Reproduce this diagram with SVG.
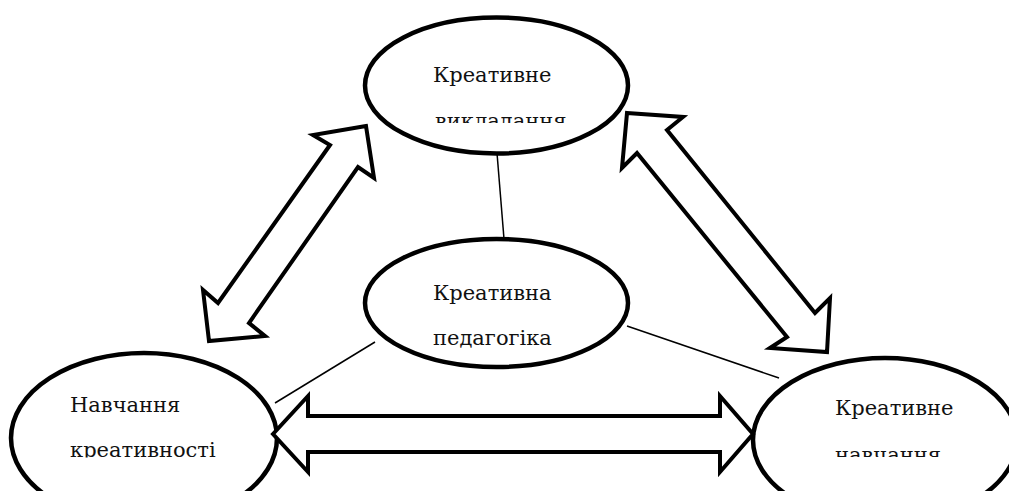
<svg xmlns="http://www.w3.org/2000/svg" width="1009" height="491" viewBox="0 0 1009 491">
<style>
.node ellipse{fill:#fff;stroke:#000;stroke-width:4.5}
.arrow{fill:#fff;stroke:#000;stroke-width:4;stroke-linejoin:miter}
.link{stroke:#000;stroke-width:1.5;fill:none}
.lbl{font-family:'DejaVu Serif',serif;font-size:21px;fill:#111}
</style>
<defs>
<clipPath id="cTop"><rect x="380" y="90" width="240" height="33"/></clipPath>
<clipPath id="cLeft"><rect x="40" y="425" width="220" height="32.5"/></clipPath>
<clipPath id="cRight"><rect x="800" y="425" width="200" height="32"/></clipPath>
</defs>
<rect width="1009" height="491" fill="#fff"/>
<g id="connectors">
<line class="link" x1="497" y1="153" x2="504" y2="239"/>
<line class="link" x1="375" y1="342" x2="275" y2="403"/>
<line class="link" x1="627" y1="326" x2="779" y2="378"/>
</g>
<g id="node-top" class="node">
<ellipse cx="496.5" cy="85.5" rx="131.5" ry="68"/>
<text class="lbl" x="433" y="82">Креативне</text>
<text class="lbl" x="435" y="128" clip-path="url(#cTop)">викладання</text>
</g>
<g id="node-center" class="node">
<ellipse cx="496.5" cy="303" rx="131.5" ry="64"/>
<text class="lbl" x="433" y="300">Креативна</text>
<text class="lbl" x="433" y="345">педагогіка</text>
</g>
<g id="node-left" class="node">
<ellipse cx="144" cy="438" rx="133" ry="85"/>
<text class="lbl" x="70" y="412">Навчання</text>
<text class="lbl" x="70" y="457" clip-path="url(#cLeft)">креативності</text>
</g>
<g id="node-right" class="node">
<ellipse cx="885" cy="440" rx="132" ry="82"/>
<text class="lbl" x="835" y="415">Креативне</text>
<text class="lbl" x="835" y="462" clip-path="url(#cRight)">навчання</text>
</g>
<g id="arrows">
<polygon id="arrow-left" class="arrow" points="366,126 313,135 330,145 218,303 203,290 209,341 265,336 249,323 358,167 374,178"/>
<polygon id="arrow-right" class="arrow" points="627,113 683,117 667,130 815,313 830,298 827,352 770,348 787,337 637,153 622,168"/>
<polygon id="arrow-bottom" class="arrow" points="273,434 308,396 308,416 720,416 720,396 753,434 720,472 720,452 308,452 308,472"/>
</g>
</svg>
